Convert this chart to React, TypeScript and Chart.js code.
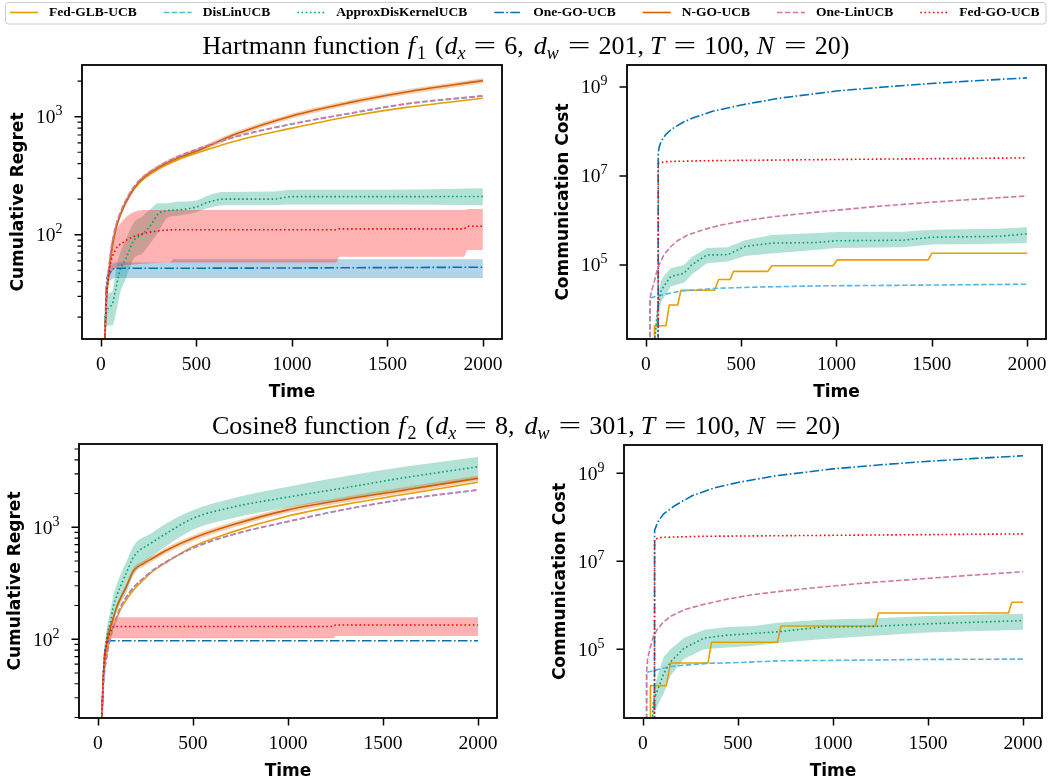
import React, { useEffect, useRef } from "react";
import { Chart, registerables } from "chart.js";
Chart.register(...registerables);

// ---------- series meta ----------
const SERIES = ["Fed-GLB-UCB", "DisLinUCB", "ApproxDisKernelUCB", "One-GO-UCB", "N-GO-UCB", "One-LinUCB", "Fed-GO-UCB"];
const COLORS = ["#E69F00", "#56B4E9", "#009E73", "#0072B2", "#D55E00", "#CC79A7", "#FF0000"];
const DASHES: number[][] = [[], [5.5, 2.4], [1.6, 2.6], [9.6, 2.4, 1.6, 2.4], [], [5.5, 2.4], [1.6, 2.6]];
const X_TICKS = [0, 500, 1000, 1500, 2000];
const REGRET_MAJOR = [100, 1000];
const COMM_MAJOR = [1e5, 1e7, 1e9];

// ---------- Panel 1: Hartmann, cumulative regret ----------
const H_REG_T = [20, 30, 40, 60, 80, 100, 150, 200, 300, 400, 500, 700, 1000, 1300, 1600, 2000];
const H_REG_GLB = [12, 30, 45, 80, 115, 145, 215, 275, 360, 430, 490, 620, 800, 1005, 1200, 1432];
const H_REG_DISLIN = [12, 32, 48, 85, 120, 150, 222, 285, 375, 455, 525, 670, 865, 1060, 1280, 1496];
const H_REG_ONELIN = [12, 33, 50, 87, 122, 152, 224, 287, 377, 457, 528, 674, 870, 1068, 1290, 1505];
const H_REG_NGO = [12, 30, 45, 80, 115, 145, 215, 280, 370, 445, 510, 705, 1015, 1315, 1620, 2020];
const H_REG_NGO_LO = [11, 28, 42, 75, 108, 137, 203, 265, 350, 422, 485, 670, 965, 1250, 1540, 1920];
const H_REG_NGO_HI = [13, 32, 48, 85, 122, 153, 227, 295, 390, 468, 537, 740, 1065, 1380, 1700, 2120];
const H_REG_APPROX_T = [20, 40, 60, 80, 100, 130, 170, 220, 260, 300, 350, 400, 500, 560, 640, 900, 1000, 1500, 2000];
const H_REG_APPROX = [20, 24, 26, 36, 50, 62, 88, 102, 120, 150, 160, 162, 172, 188, 200, 200, 210, 210, 211];
const H_REG_APPROX_LO = [17, 17, 17, 22, 32, 42, 62, 70, 85, 105, 140, 145, 155, 168, 178, 178, 180, 180, 178];
const H_REG_APPROX_HI = [24, 32, 33, 52, 70, 90, 125, 145, 165, 185, 185, 190, 195, 215, 230, 232, 240, 240, 247];
const H_REG_FEDGO_T = [20, 30, 40, 50, 75, 120, 170, 240, 400, 1230, 1250, 1900, 1920, 2000];
const H_REG_FEDGO = [13, 30, 45, 57, 74, 87, 96, 104, 110, 110, 112, 112, 118, 118];
const H_REG_FEDGO_LO = [12, 25, 38, 45, 52, 55, 56, 57, 58, 58, 65, 65, 74, 74];
const H_REG_FEDGO_HI = [14, 35, 55, 80, 105, 135, 155, 162, 162, 162, 162, 162, 165, 165];
const H_REG_ONEGO_T = [20, 30, 40, 75, 360, 380, 2000];
const H_REG_ONEGO = [12, 40, 46, 52, 52, 52, 53];
const H_REG_ONEGO_LO = [11, 36, 40, 43, 43, 43, 43];
const H_REG_ONEGO_HI = [13, 44, 52, 58, 58, 62, 62];

// ---------- Panel 2: Hartmann, communication cost ----------
const H_COM_GLB_T = [44, 45, 105, 123, 167, 184, 360, 382, 442, 460, 640, 661, 982, 1004, 1482, 1500, 2000];
const H_COM_GLB = [1, 4300, 4300, 12600, 12600, 27000, 27000, 47000, 47000, 72000, 72000, 96000, 96000, 130000, 130000, 183000, 183000];
const H_COM_DISLIN_T = [21, 22, 60, 100, 184, 376, 605, 921, 1350, 2000];
const H_COM_DISLIN = [1, 18000, 20000, 22000, 26000, 30000, 32000, 34000, 35000, 37000];
const H_COM_ONELIN_T = [21, 22, 30, 42, 55, 69, 95, 131, 170, 219, 300, 395, 520, 658, 800, 921, 1200, 1500, 1750, 2000];
const H_COM_ONELIN = [1, 18000, 26000, 39000, 65000, 100000, 170000, 260000, 360000, 470000, 620000, 790000, 990000, 1200000, 1400000, 1580000, 2050000, 2580000, 3050000, 3550000];
const H_COM_ONEGO_T = [64, 65, 70, 80, 105, 130, 158, 200, 246, 350, 509, 700, 1009, 1250, 1500, 1750, 2000];
const H_COM_ONEGO = [1, 3.2e7, 4.5e7, 6e7, 8.6e7, 1.08e8, 1.3e8, 1.65e8, 2e8, 2.85e8, 4e8, 5.6e8, 8.2e8, 1e9, 1.2e9, 1.4e9, 1.6e9];
const H_COM_FEDGO_T = [64, 65, 100, 300, 1000, 2000];
const H_COM_FEDGO = [1, 1.9e7, 2.1e7, 2.2e7, 2.35e7, 2.55e7];
const H_COM_APPROX_T = [44, 55, 62, 80, 100, 130, 200, 240, 320, 430, 520, 660, 900, 1000, 1350, 1500, 1850, 2000];
const H_COM_APPROX = [1500, 5000, 10000, 27000, 36000, 55000, 65000, 100000, 168000, 170000, 260000, 310000, 320000, 350000, 360000, 420000, 440000, 500000];
const H_COM_APPROX_LO = [1000, 3000, 5000, 15000, 20000, 33000, 40000, 60000, 110000, 120000, 160000, 180000, 220000, 240000, 250000, 290000, 300000, 310000];
const H_COM_APPROX_HI = [2500, 8000, 20000, 45000, 60000, 84000, 100000, 150000, 240000, 250000, 360000, 470000, 520000, 550000, 560000, 620000, 650000, 700000];

// ---------- Panel 3: Cosine8, cumulative regret ----------
const C_REG_T = [20, 30, 47, 65, 83, 100, 118, 150, 188, 240, 276, 364, 500, 700, 1000, 1300, 1600, 2000];
const C_REG_GLB = [18, 45, 75, 105, 130, 155, 183, 225, 276, 340, 388, 490, 671, 900, 1260, 1600, 1950, 2520];
const C_REG_DISLIN = [18, 40, 70, 100, 128, 158, 190, 238, 290, 350, 395, 495, 650, 850, 1123, 1440, 1760, 2153];
const C_REG_ONELIN = [18, 41, 71, 101, 129, 159, 191, 239, 291, 352, 397, 497, 653, 853, 1127, 1445, 1766, 2160];
const C_REG_NGO = [18, 50, 93, 125, 159, 195, 230, 295, 410, 474, 514, 627, 797, 1040, 1430, 1770, 2130, 2740];
const C_REG_NGO_LO = [17, 47, 88, 118, 150, 184, 217, 278, 386, 446, 484, 590, 750, 980, 1345, 1665, 2000, 2575];
const C_REG_NGO_HI = [19, 53, 98, 132, 168, 206, 243, 312, 434, 502, 544, 664, 845, 1100, 1515, 1875, 2260, 2905];
const C_REG_APPROX_T = [20, 30, 40, 50, 65, 80, 100, 120, 150, 190, 280, 360, 500, 700, 1000, 1300, 1600, 2000];
const C_REG_APPROX = [18, 55, 85, 110, 140, 190, 245, 300, 390, 550, 720, 880, 1200, 1500, 1860, 2250, 2750, 3470];
const C_REG_APPROX_LO = [16, 45, 70, 88, 108, 140, 175, 210, 260, 380, 540, 680, 950, 1200, 1500, 1800, 2150, 2650];
const C_REG_APPROX_HI = [20, 65, 100, 135, 175, 240, 310, 380, 490, 690, 880, 1080, 1420, 1800, 2300, 2850, 3450, 4250];
const C_REG_FEDGO_T = [20, 30, 47, 65, 83, 1240, 1250, 2000];
const C_REG_FEDGO = [18, 50, 93, 115, 130, 130, 134, 134];
const C_REG_FEDGO_LO = [17, 45, 80, 97, 102, 102, 107, 107];
const C_REG_FEDGO_HI = [19, 56, 110, 140, 157, 157, 157, 157];
const C_REG_ONEGO_T = [20, 35, 47, 65, 2000];
const C_REG_ONEGO = [18, 70, 91, 97, 97];

// ---------- Panel 4: Cosine8, communication cost ----------
const C_COM_GLB_T = [39, 40, 123, 146, 343, 362, 708, 727, 1223, 1240, 1924, 1941, 2000];
const C_COM_GLB = [1, 15000, 15000, 49000, 49000, 145000, 145000, 340000, 340000, 670000, 670000, 1170000, 1170000];
const C_COM_DISLIN_T = [19, 20, 60, 146, 340, 500, 727, 1000, 1500, 2000];
const C_COM_DISLIN = [1, 30000, 33000, 41000, 48000, 50000, 55000, 56000, 59000, 60000];
const C_COM_ONELIN_T = [19, 20, 25, 40, 55, 75, 105, 145, 220, 320, 450, 585, 750, 940, 1200, 1500, 1750, 2000];
const C_COM_ONELIN = [1, 32000, 60000, 115000, 190000, 280000, 400000, 560000, 800000, 1050000, 1400000, 1760000, 2150000, 2600000, 3300000, 4100000, 4900000, 5800000];
const C_COM_ONEGO_T = [61, 62, 70, 84, 110, 170, 260, 380, 500, 700, 1000, 1250, 1490, 1750, 2000];
const C_COM_ONEGO = [1, 5e7, 6.3e7, 8.5e7, 1.2e8, 1.86e8, 3.1e8, 4.7e8, 6.2e8, 8.8e8, 1.26e9, 1.56e9, 1.86e9, 2.18e9, 2.5e9];
const C_COM_FEDGO_T = [61, 62, 100, 300, 1000, 2000];
const C_COM_FEDGO = [1, 3.2e7, 3.5e7, 3.7e7, 3.9e7, 4.2e7];
const C_COM_APPROX_T = [44, 56, 84, 110, 146, 216, 322, 445, 585, 708, 937, 1200, 1500, 2000];
const C_COM_APPROX = [1000, 6900, 14000, 28000, 52000, 105000, 180000, 210000, 230000, 250000, 320000, 330000, 380000, 450000];
const C_COM_APPROX_LO = [600, 3000, 6000, 10000, 25000, 60000, 100000, 110000, 120000, 140000, 170000, 200000, 240000, 280000];
const C_COM_APPROX_HI = [1500, 12000, 30000, 68000, 100000, 180000, 280000, 320000, 340000, 400000, 470000, 500000, 570000, 640000];

// ---------- helpers ----------
const SERIF = '"Liberation Serif", "Times New Roman", serif';
const SANS = '"DejaVu Sans", sans-serif';

function rgba(hex: string, a: number) {
  const n = parseInt(hex.slice(1), 16);
  return `rgba(${(n >> 16) & 255},${(n >> 8) & 255},${n & 255},${a})`;
}
function pts(xs: number[], ys: number[]) {
  return xs.map((x, k) => ({ x, y: ys[k] }));
}
function line(i: number, xs: number[], ys: number[], smooth = true) {
  return {
    label: SERIES[i],
    data: pts(xs, ys),
    borderColor: COLORS[i],
    borderDash: DASHES[i],
    borderWidth: 1.6,
    borderJoinStyle: "round",
    pointRadius: 0,
    fill: false,
    order: 100 - i,
    clip: 0,
    tension: 0,
    cubicInterpolationMode: smooth ? "monotone" : "default",
  };
}
function band(i: number, xs: number[], lo: number[], hi: number[], smooth = true) {
  const base = {
    borderColor: "rgba(0,0,0,0)",
    borderWidth: 0,
    pointRadius: 0,
    order: 200 - i,
    clip: 0,
    tension: 0,
    cubicInterpolationMode: smooth ? "monotone" : "default",
  };
  return [
    { ...base, label: SERIES[i] + " upper", data: pts(xs, hi), fill: "+1", backgroundColor: rgba(COLORS[i], 0.3) },
    { ...base, label: SERIES[i] + " lower", data: pts(xs, lo), fill: false },
  ];
}

// rich text: t text, f font, p gap before, dy baseline shift, sx horizontal scale
type Part = { t: string; f: string; p?: number; dy?: number; sx?: number };
function drawRich(ctx: CanvasRenderingContext2D, parts: Part[], cx: number, baseline: number) {
  let total = 0;
  const ws = parts.map((q) => {
    ctx.font = q.f;
    const w = ctx.measureText(q.t).width * (q.sx || 1);
    total += w + (q.p || 0);
    return w;
  });
  let x = cx - total / 2;
  ctx.textAlign = "left";
  ctx.textBaseline = "alphabetic";
  parts.forEach((q, k) => {
    x += q.p || 0;
    ctx.font = q.f;
    ctx.save();
    ctx.translate(x, baseline + (q.dy || 0));
    ctx.scale(q.sx || 1, 1);
    ctx.fillText(q.t, 0, 0);
    ctx.restore();
    x += ws[k];
  });
}

const FR = `26px ${SERIF}`;
const FI = `italic 26px ${SERIF}`;
const FS = `18px ${SERIF}`;
const FSI = `italic 18px ${SERIF}`;
function titleParts(name: string, sub: string, dx: string, dw: string): Part[] {
  return [
    { t: name, f: FR },
    { t: "f", f: FI, p: 8 },
    { t: sub, f: FS, p: 2, dy: 5 },
    { t: "(", f: FR, p: 9 },
    { t: "d", f: FI, p: 1 },
    { t: "x", f: FSI, dy: 5 },
    { t: "=", f: FR, p: 8, sx: 1.55 },
    { t: dx, f: FR, p: 8 },
    { t: ",", f: FR },
    { t: "d", f: FI, p: 10 },
    { t: "w", f: FSI, dy: 5 },
    { t: "=", f: FR, p: 9, sx: 1.55 },
    { t: dw, f: FR, p: 8 },
    { t: ",", f: FR },
    { t: "T", f: FI, p: 6 },
    { t: "=", f: FR, p: 9, sx: 1.55 },
    { t: "100", f: FR, p: 8 },
    { t: ",", f: FR },
    { t: "N", f: FI, p: 7 },
    { t: "=", f: FR, p: 10, sx: 1.55 },
    { t: "20)", f: FR, p: 8 },
  ];
}
const TITLE_1 = titleParts("Hartmann function", "1", "6", "201");
const TITLE_2 = titleParts("Cosine8 function", "2", "8", "301");

function headerPlugin() {
  return {
    id: "header",
    afterDraw(chart: any) {
      const ctx: CanvasRenderingContext2D = chart.ctx;
      ctx.save();
      ctx.beginPath();
      (ctx as any).roundRect(5.5, 2.5, 1040.5, 21.5, 3);
      ctx.fillStyle = "rgba(255,255,255,0.8)";
      ctx.fill();
      ctx.strokeStyle = "#cccccc";
      ctx.lineWidth = 1;
      ctx.stroke();
      ctx.font = `bold 13.5px ${SERIF}`;
      ctx.textBaseline = "middle";
      ctx.textAlign = "left";
      let x = 10;
      SERIES.forEach((name, i) => {
        ctx.strokeStyle = COLORS[i];
        ctx.setLineDash(DASHES[i]);
        ctx.lineWidth = 1.6;
        ctx.beginPath();
        ctx.moveTo(x, 12.5);
        ctx.lineTo(x + 28, 12.5);
        ctx.stroke();
        ctx.setLineDash([]);
        ctx.fillStyle = "#000";
        ctx.fillText(name, x + 39, 13);
        x += 39 + ctx.measureText(name).width + 27;
      });
      ctx.fillStyle = "#000";
      drawRich(ctx, TITLE_1, 526, 54);
      drawRich(ctx, TITLE_2, 526, 434);
      ctx.restore();
    },
  };
}

function decoPlugin(yMajor: number[], withMinor: boolean, yTitle: string) {
  return {
    id: "deco",
    afterDraw(chart: any) {
      const ctx: CanvasRenderingContext2D = chart.ctx;
      const a = chart.chartArea;
      const xs = chart.scales.x;
      const ys = chart.scales.y;
      ctx.save();
      ctx.strokeStyle = "#000";
      ctx.fillStyle = "#000";
      ctx.lineWidth = 1.5;
      ctx.beginPath();
      X_TICKS.forEach((t) => {
        const px = Math.round(xs.getPixelForValue(t)) + 0.5;
        ctx.moveTo(px, a.bottom);
        ctx.lineTo(px, a.bottom + 7.5);
      });
      yMajor.forEach((v) => {
        const py = ys.getPixelForValue(v);
        ctx.moveTo(a.left, py);
        ctx.lineTo(a.left - 7.5, py);
      });
      ctx.stroke();
      if (withMinor) {
        ctx.lineWidth = 1.1;
        ctx.beginPath();
        const lo = Math.floor(Math.log10(ys.min));
        const hi = Math.ceil(Math.log10(ys.max));
        for (let e = lo; e <= hi; e++) {
          for (let k = 2; k <= 9; k++) {
            const v = k * Math.pow(10, e);
            if (v < ys.min || v > ys.max) continue;
            const py = ys.getPixelForValue(v);
            ctx.moveTo(a.left, py);
            ctx.lineTo(a.left - 4.5, py);
          }
        }
        ctx.stroke();
      }
      ctx.lineWidth = 1.8;
      ctx.strokeRect(a.left, a.top, a.right - a.left, a.bottom - a.top);
      ctx.font = `19.5px ${SERIF}`;
      ctx.textAlign = "center";
      ctx.textBaseline = "alphabetic";
      X_TICKS.forEach((t) => ctx.fillText(String(t), xs.getPixelForValue(t), a.bottom + 31));
      ctx.textAlign = "left";
      yMajor.forEach((v) => {
        const py = ys.getPixelForValue(v);
        const e = String(Math.round(Math.log10(v)));
        ctx.font = `14px ${SERIF}`;
        const we = ctx.measureText(e).width;
        ctx.font = `19.5px ${SERIF}`;
        const wb = ctx.measureText("10").width;
        const right = a.left - 19.5;
        ctx.fillText("10", right - we - wb, py + 6.5);
        ctx.font = `14px ${SERIF}`;
        ctx.fillText(e, right - we, py - 1.5);
      });
      ctx.font = `bold 17px ${SANS}`;
      ctx.textAlign = "center";
      ctx.fillText("Time", (a.left + a.right) / 2, a.bottom + 58);
      ctx.translate(a.left - 59, (a.top + a.bottom) / 2);
      ctx.rotate(-Math.PI / 2);
      ctx.fillText(yTitle, 0, 0);
      ctx.restore();
    },
  };
}

type Panel = {
  area: { l: number; t: number; r: number; b: number };
  yMin: number;
  yMax: number;
  yMajor: number[];
  minor: boolean;
  yTitle: string;
  datasets: any[];
};

const PANELS: Panel[] = [
  {
    area: { l: 82, t: 65, r: 502, b: 339 },
    yMin: 13.06, yMax: 2742, yMajor: REGRET_MAJOR, minor: true, yTitle: "Cumulative Regret",
    datasets: [
      ...band(2, H_REG_APPROX_T, H_REG_APPROX_LO, H_REG_APPROX_HI),
      ...band(3, H_REG_ONEGO_T, H_REG_ONEGO_LO, H_REG_ONEGO_HI),
      ...band(4, H_REG_T, H_REG_NGO_LO, H_REG_NGO_HI),
      ...band(6, H_REG_FEDGO_T, H_REG_FEDGO_LO, H_REG_FEDGO_HI),
      line(0, H_REG_T, H_REG_GLB),
      line(1, H_REG_T, H_REG_DISLIN),
      line(2, H_REG_APPROX_T, H_REG_APPROX),
      line(3, H_REG_ONEGO_T, H_REG_ONEGO),
      line(4, H_REG_T, H_REG_NGO),
      line(5, H_REG_T, H_REG_ONELIN),
      line(6, H_REG_FEDGO_T, H_REG_FEDGO),
    ],
  },
  {
    area: { l: 627, t: 65, r: 1046, b: 339 },
    yMin: 2170, yMax: 3.12e9, yMajor: COMM_MAJOR, minor: false, yTitle: "Communication Cost",
    datasets: [
      ...band(2, H_COM_APPROX_T, H_COM_APPROX_LO, H_COM_APPROX_HI, false),
      line(0, H_COM_GLB_T, H_COM_GLB, false),
      line(1, H_COM_DISLIN_T, H_COM_DISLIN, false),
      line(2, H_COM_APPROX_T, H_COM_APPROX, false),
      line(3, H_COM_ONEGO_T, H_COM_ONEGO, false),
      line(5, H_COM_ONELIN_T, H_COM_ONELIN, false),
      line(6, H_COM_FEDGO_T, H_COM_FEDGO, false),
    ],
  },
  {
    area: { l: 79, t: 444, r: 497, b: 718 },
    yMin: 19.8, yMax: 5540, yMajor: REGRET_MAJOR, minor: true, yTitle: "Cumulative Regret",
    datasets: [
      ...band(2, C_REG_APPROX_T, C_REG_APPROX_LO, C_REG_APPROX_HI),
      ...band(4, C_REG_T, C_REG_NGO_LO, C_REG_NGO_HI),
      ...band(6, C_REG_FEDGO_T, C_REG_FEDGO_LO, C_REG_FEDGO_HI),
      line(0, C_REG_T, C_REG_GLB),
      line(1, C_REG_T, C_REG_DISLIN),
      line(2, C_REG_APPROX_T, C_REG_APPROX),
      line(3, C_REG_ONEGO_T, C_REG_ONEGO),
      line(4, C_REG_T, C_REG_NGO),
      line(5, C_REG_T, C_REG_ONELIN),
      line(6, C_REG_FEDGO_T, C_REG_FEDGO),
    ],
  },
  {
    area: { l: 624, t: 445, r: 1042, b: 718 },
    yMin: 2750, yMax: 4.4e9, yMajor: COMM_MAJOR, minor: false, yTitle: "Communication Cost",
    datasets: [
      ...band(2, C_COM_APPROX_T, C_COM_APPROX_LO, C_COM_APPROX_HI, false),
      line(0, C_COM_GLB_T, C_COM_GLB, false),
      line(1, C_COM_DISLIN_T, C_COM_DISLIN, false),
      line(2, C_COM_APPROX_T, C_COM_APPROX, false),
      line(3, C_COM_ONEGO_T, C_COM_ONEGO, false),
      line(5, C_COM_ONELIN_T, C_COM_ONELIN, false),
      line(6, C_COM_FEDGO_T, C_COM_FEDGO, false),
    ],
  },
];

const W = 1050;
const H = 780;

function buildConfig(p: Panel, withHeader: boolean): any {
  const plugins: any[] = [decoPlugin(p.yMajor, p.minor, p.yTitle)];
  if (withHeader) plugins.push(headerPlugin());
  return {
    type: "line",
    data: { datasets: p.datasets },
    options: {
      animation: false,
      responsive: false,
      maintainAspectRatio: false,
      events: [],
      layout: { padding: { left: p.area.l, top: p.area.t, right: W - p.area.r, bottom: H - p.area.b } },
      scales: {
        x: { type: "linear", min: -99, max: 2100, display: false, bounds: "data" },
        y: { type: "logarithmic", min: p.yMin, max: p.yMax, display: false, bounds: "data" },
      },
      plugins: {
        legend: { display: false },
        tooltip: { enabled: false },
        filler: { propagate: false, drawTime: "beforeDatasetsDraw" },
      },
      elements: { point: { radius: 0 } },
    },
    plugins,
  };
}

export default function App() {
  const wrap = useRef<HTMLDivElement>(null);
  useEffect(() => {
    const host = wrap.current!;
    const canvases = Array.from(host.querySelectorAll("canvas"));
    const charts = PANELS.map((p, i) => new Chart(canvases[i] as HTMLCanvasElement, buildConfig(p, i === 0)));
    return () => charts.forEach((c) => c.destroy());
  }, []);
  return (
    <div ref={wrap} style={{ position: "absolute", left: 0, top: 0, width: W, height: H, background: "#fff" }}>
      {PANELS.map((_, i) => (
        <canvas key={i} width={W} height={H} style={{ position: "absolute", left: 0, top: 0 }} />
      ))}
    </div>
  );
}
